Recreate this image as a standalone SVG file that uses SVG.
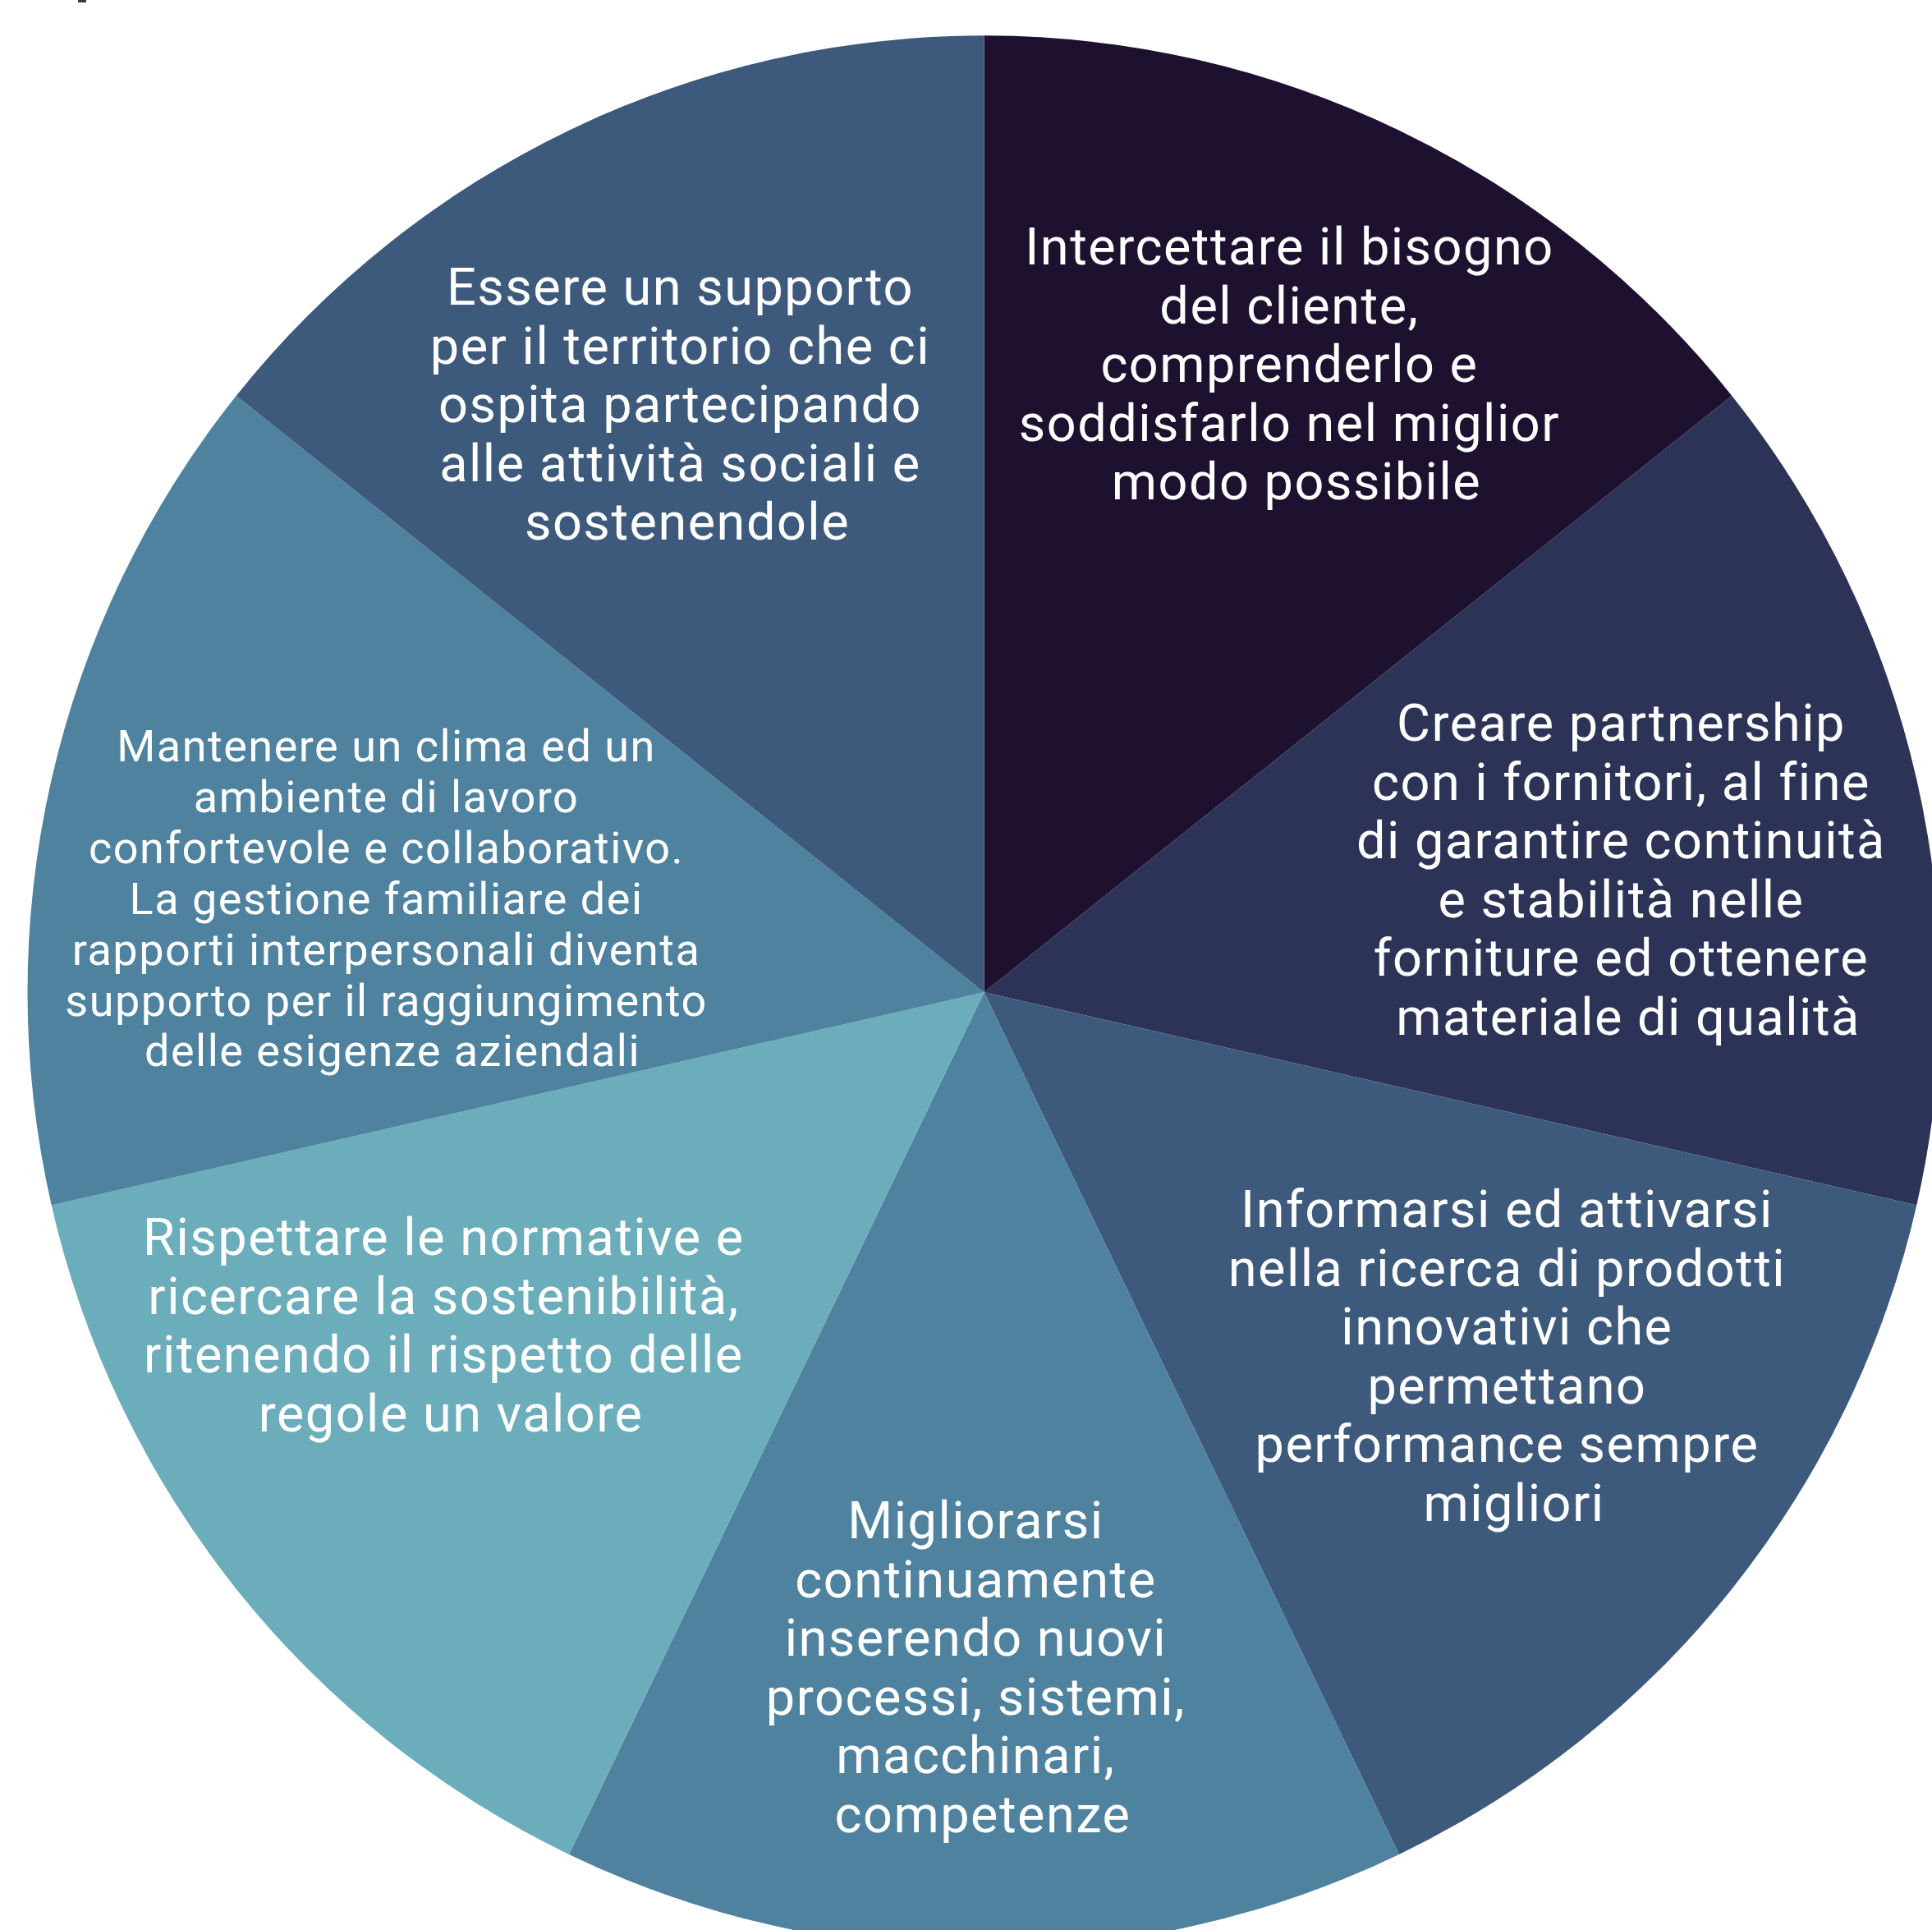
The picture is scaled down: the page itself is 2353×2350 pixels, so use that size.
<svg xmlns="http://www.w3.org/2000/svg" width="2353" height="2350" viewBox="0 0 2353 2350">
<style>
.lbl{font-family:Roboto,"Liberation Sans",sans-serif;font-size:63px;fill:#ffffff;text-anchor:middle;letter-spacing:1.5px}
.sm{font-size:54px}
</style>
<rect x="0" y="0" width="2353" height="2350" fill="#ffffff"/>
<rect x="95" y="0" width="10" height="3" fill="#3b3b3b"/>
<g id="slices">
<g id="s1"><path d="M1198.5,1208.3 L1198.5,43.3 A1165,1165 0 0 1 2109.33,481.93 Z" fill="#1e1130"/></g>
<g id="s2"><path d="M1198.5,1208.3 L2109.33,481.93 A1165,1165 0 0 1 2334.29,1467.54 Z" fill="#2c3357"/></g>
<g id="s3"><path d="M1198.5,1208.3 L2334.29,1467.54 A1165,1165 0 0 1 1703.97,2257.93 Z" fill="#3d5a7c"/></g>
<g id="s4"><path d="M1198.5,1208.3 L1703.97,2257.93 A1165,1165 0 0 1 693.03,2257.93 Z" fill="#4e829f"/></g>
<g id="s5"><path d="M1198.5,1208.3 L693.03,2257.93 A1165,1165 0 0 1 62.71,1467.54 Z" fill="#6badbb"/></g>
<g id="s6"><path d="M1198.5,1208.3 L62.71,1467.54 A1165,1165 0 0 1 287.67,481.93 Z" fill="#4e829f"/></g>
<g id="s7"><path d="M1198.5,1208.3 L287.67,481.93 A1165,1165 0 0 1 1198.5,43.3 Z" fill="#3d5a7c"/></g>
</g>
<g id="connectors"></g>
<g id="t1"><text class="lbl">
<tspan x="1579" y="322">Intercettare il bisogno</tspan>
<tspan x="1579" y="393.6">del cliente,</tspan>
<tspan x="1579" y="465.2">comprenderlo e</tspan>
<tspan x="1579" y="536.8">soddisfarlo nel miglior</tspan>
<tspan x="1579" y="608.4">modo possibile</tspan>
</text></g>
<g id="t2"><text class="lbl">
<tspan x="1983" y="902">Creare partnership</tspan>
<tspan x="1983" y="973.6">con i fornitori, al fine</tspan>
<tspan x="1983" y="1045.2">di garantire continuità</tspan>
<tspan x="1983" y="1116.8">e stabilità nelle</tspan>
<tspan x="1983" y="1188.4">forniture ed ottenere</tspan>
<tspan x="1983" y="1260">materiale di qualità</tspan>
</text></g>
<g id="t3"><text class="lbl">
<tspan x="1844" y="1494">Informarsi ed attivarsi</tspan>
<tspan x="1844" y="1565.6">nella ricerca di prodotti</tspan>
<tspan x="1844" y="1637.2">innovativi che</tspan>
<tspan x="1844" y="1708.8">permettano</tspan>
<tspan x="1844" y="1780.4">performance sempre</tspan>
<tspan x="1844" y="1852">migliori</tspan>
</text></g>
<g id="t4"><text class="lbl">
<tspan x="1197" y="1873">Migliorarsi</tspan>
<tspan x="1197" y="1944.6">continuamente</tspan>
<tspan x="1197" y="2016.2">inserendo nuovi</tspan>
<tspan x="1197" y="2087.8">processi, sistemi,</tspan>
<tspan x="1197" y="2159.4">macchinari,</tspan>
<tspan x="1197" y="2231">competenze</tspan>
</text></g>
<g id="t5"><text class="lbl">
<tspan x="549" y="1528">Rispettare le normative e</tspan>
<tspan x="549" y="1599.6">ricercare la sostenibilità,</tspan>
<tspan x="549" y="1671.2">ritenendo il rispetto delle</tspan>
<tspan x="549" y="1742.8">regole un valore</tspan>
</text></g>
<g id="t6"><text class="lbl sm">
<tspan x="478" y="927">Mantenere un clima ed un</tspan>
<tspan x="478" y="988.9">ambiente di lavoro</tspan>
<tspan x="478" y="1050.8">confortevole e collaborativo.</tspan>
<tspan x="478" y="1112.7">La gestione familiare dei</tspan>
<tspan x="478" y="1174.6">rapporti interpersonali diventa</tspan>
<tspan x="478" y="1236.5">supporto per il raggiungimento</tspan>
<tspan x="478" y="1298.4">delle esigenze aziendali</tspan>
</text></g>
<g id="t7"><text class="lbl">
<tspan x="837" y="371">Essere un supporto</tspan>
<tspan x="837" y="442.6">per il territorio che ci</tspan>
<tspan x="837" y="514.2">ospita partecipando</tspan>
<tspan x="837" y="585.8">alle attività sociali e</tspan>
<tspan x="837" y="657.4">sostenendole</tspan>
</text></g>
</svg>
